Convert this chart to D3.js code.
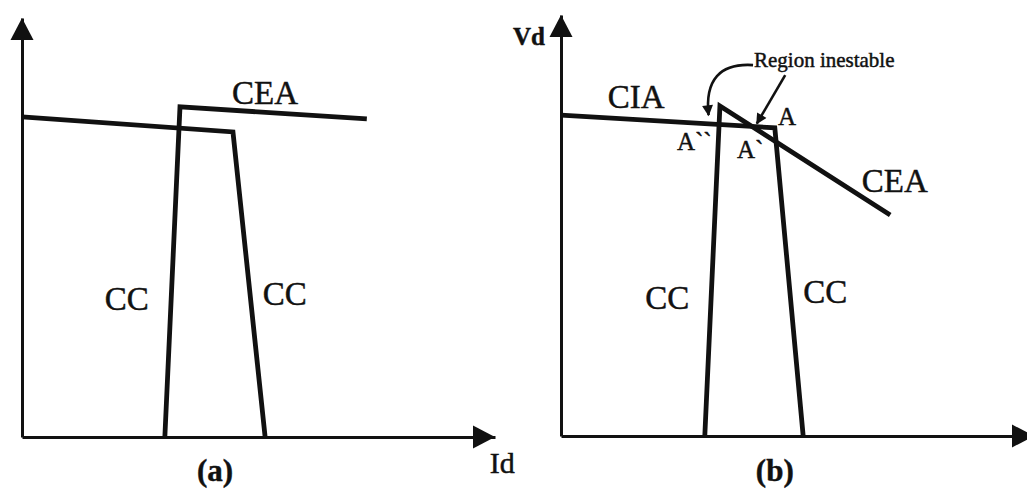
<!DOCTYPE html>
<html>
<head>
<meta charset="utf-8">
<script src="https://cdn.jsdelivr.net/npm/d3@7"></script>
<style>
  html, body { margin: 0; padding: 0; background: #fff; }
  svg { display: block; }
  text { font-family: "Liberation Serif", "Times New Roman", serif; fill: #111; stroke: #111; stroke-width: 0.45px; }
</style>
</head>
<body>
<svg id="chart" width="1027" height="491"></svg>
<script>
// Static characteristics of a DC link: current Id on x, voltage Vd on y (relative units 0-100)

// Panel (a): rectifier CIA/CC characteristic and inverter CEA/CC characteristic
const rectA = [{id: 0, vd: 76.4}, {id: 44.6, vd: 72.8}, {id: 51.4, vd: 0}];
const invA  = [{id: 30.2, vd: 0}, {id: 33.4, vd: 78.8}, {id: 72.9, vd: 75.9}];

// Panel (b): inverter CEA with negative slope, crossing the rectifier characteristic
const rectB = [{id: 0, vd: 76.2}, {id: 45.2, vd: 73.2}, {id: 51.2, vd: 0}];
const invB  = [{id: 30.4, vd: 0}, {id: 33.6, vd: 78.4}, {id: 69.6, vd: 52.5}];

// Text labels, anchored in data units
const labelsA = [
  {text: "CEA", id: 44.4, vd: 79.5, size: 33},
  {text: "CC",  id: 17.5, vd: 30.3, size: 33},
  {text: "CC",  id: 50.9, vd: 31.5, size: 33},
  {text: "Id",  id: 98.9, vd: -8.6, size: 30}
];
const labelsB = [
  {text: "CIA", id: 9.9,  vd: 77.9, size: 33},
  {text: "A",   id: 45.9, vd: 73.9, size: 25},
  {text: "A``", id: 24.5, vd: 67.9, size: 25},
  {text: "A`",  id: 37.2, vd: 66.0, size: 25},
  {text: "CEA", id: 63.6, vd: 58.0, size: 33},
  {text: "CC",  id: 17.8, vd: 30.2, size: 33},
  {text: "CC",  id: 51.2, vd: 31.6, size: 33},
  {text: "Region inestable", id: 40.8, vd: 87.6, size: 21}
];
const captions = ["(a)", "(b)"];
const captionPos = [{id: 40.8, vd: -10.5}, {id: 45.2, vd: -10.7}];

// Pointer arrows marking the unstable region in (b)
const curvedPointer = [{id: 40.6, vd: 88.1}, {id: 33.6, vd: 88.6}, {id: 30.4, vd: 84.6}, {id: 31.2, vd: 76.2}];
const straightPointer = [{id: 47.4, vd: 85.7}, {id: 41.4, vd: 74.2}];

const svg = d3.select("#chart");

const defs = svg.append("defs");
defs.append("marker")
  .attr("id", "head")
  .attr("viewBox", "0 0 10 10")
  .attr("refX", 9).attr("refY", 5)
  .attr("markerWidth", 4.6).attr("markerHeight", 4.2)
  .attr("markerUnits", "strokeWidth")
  .attr("orient", "auto")
  .append("path").attr("d", "M0,0 L10,5 L0,10 Z").attr("fill", "#111");

function panel(origin, xEnd, yEnd) {
  const x = d3.scaleLinear().domain([0, 100]).range([origin[0], xEnd]);
  const y = d3.scaleLinear().domain([0, 100]).range([origin[1], yEnd]);
  const g = svg.append("g");

  // Axes without ticks, only the domain line
  g.append("g").attr("transform", `translate(0,${origin[1]})`)
    .call(d3.axisBottom(x).tickValues([]).tickSizeOuter(0));
  g.append("g").attr("transform", `translate(${origin[0]},0)`)
    .call(d3.axisLeft(y).tickValues([]).tickSizeOuter(0));
  g.selectAll(".domain").attr("stroke", "#111").attr("stroke-width", 3);

  // Arrowheads at the ends of the axes
  const L = 22, W = 11.5;
  g.append("path")
    .attr("d", `M${x(100)},${y(0)} L${x(100) - L},${y(0) - W} L${x(100) - L},${y(0) + W} Z`)
    .attr("fill", "#111");
  g.append("path")
    .attr("d", `M${x(0)},${y(100)} L${x(0) - W},${y(100) + L} L${x(0) + W},${y(100) + L} Z`)
    .attr("fill", "#111");

  return {g, x, y};
}

function drawCurve(p, data) {
  const line = d3.line().x(d => p.x(d.id)).y(d => p.y(d.vd));
  p.g.append("path").datum(data)
    .attr("d", line)
    .attr("fill", "none")
    .attr("stroke", "#111")
    .attr("stroke-width", 4.8)
    .attr("stroke-linejoin", "miter");
}

function drawLabels(p, labels) {
  p.g.selectAll("text.lbl").data(labels).enter().append("text")
    .attr("class", "lbl")
    .attr("x", d => p.x(d.id))
    .attr("y", d => p.y(d.vd))
    .attr("font-size", d => d.size)
    .text(d => d.text);
}

// Panel (a)
const pa = panel([22, 437], 495, 18);
drawCurve(pa, rectA);
drawCurve(pa, invA);
drawLabels(pa, labelsA);

// Panel (b)
const pb = panel([561, 436], 1034, 15);
drawCurve(pb, rectB);
drawCurve(pb, invB);
drawLabels(pb, labelsB);

pb.g.append("text")
  .attr("x", pb.x(-3.4)).attr("y", pb.y(92.9))
  .attr("text-anchor", "end")
  .attr("font-size", 25).attr("font-weight", "bold")
  .text("Vd");

// Pointers to the unstable region
pb.g.append("path").datum(curvedPointer)
  .attr("d", d => `M${pb.x(d[0].id)},${pb.y(d[0].vd)} C${pb.x(d[1].id)},${pb.y(d[1].vd)} ${pb.x(d[2].id)},${pb.y(d[2].vd)} ${pb.x(d[3].id)},${pb.y(d[3].vd)}`)
  .attr("fill", "none").attr("stroke", "#111").attr("stroke-width", 2.6)
  .attr("marker-end", "url(#head)");
pb.g.append("path").datum(straightPointer)
  .attr("d", d3.line().x(d => pb.x(d.id)).y(d => pb.y(d.vd)))
  .attr("fill", "none").attr("stroke", "#111").attr("stroke-width", 2.6)
  .attr("marker-end", "url(#head)");

// Captions
[pa, pb].forEach((p, i) => {
  p.g.append("text")
    .attr("x", p.x(captionPos[i].id)).attr("y", p.y(captionPos[i].vd))
    .attr("text-anchor", "middle")
    .attr("font-size", 31).attr("font-weight", "bold")
    .text(captions[i]);
});
</script>
</body>
</html>
